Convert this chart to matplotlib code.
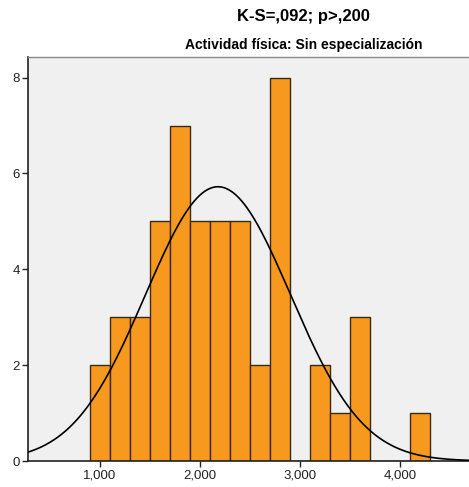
import numpy as np
import matplotlib.pyplot as plt
from matplotlib.ticker import FuncFormatter

plt.rcParams['font.family'] = ['Liberation Sans', 'DejaVu Sans']

# histogram bins (left edges, width 200) and counts
bin_left = [900, 1100, 1300, 1500, 1700, 1900, 2100, 2300, 2500, 2700,
            2900, 3100, 3300, 3500, 3700, 3900, 4100]
counts = [2, 3, 3, 5, 7, 5, 5, 5, 2, 8, 0, 2, 1, 3, 0, 0, 1]
bin_width = 200

# fitted normal curve
mean = 2180
std = 725

title = "K-S=,092; p>,200"
subtitle = "Actividad física: Sin especialización"

fig = plt.figure(figsize=(4.69, 4.87), dpi=100)
ax = fig.add_axes([28 / 469, 1 - 461 / 487, 1 - 28 / 469, (461 - 57) / 487])
ax.set_facecolor('#f0f0f0')

ax.bar(bin_left, counts, width=bin_width, align='edge',
       color='#f8991f', edgecolor='#3a2a10', linewidth=1.0, zorder=2)

n = sum(counts)
xs = np.linspace(280, 4690, 500)
ys = n * bin_width / (std * np.sqrt(2 * np.pi)) * np.exp(-0.5 * ((xs - mean) / std) ** 2)
ax.plot(xs, ys, color='black', linewidth=1.2, zorder=3)

ax.set_xlim(280, 4690)
ax.set_ylim(0, 8.43)
ax.set_xticks([1000, 2000, 3000, 4000])
ax.xaxis.set_major_formatter(FuncFormatter(lambda v, p: f"{int(v):,}"))
ax.set_yticks([0, 2, 4, 6, 8])

for s in ['left', 'bottom']:
    ax.spines[s].set_color('#222222')
    ax.spines[s].set_linewidth(1.2)
ax.spines['top'].set_color('#888888')
ax.spines['top'].set_linewidth(1.0)
ax.spines['right'].set_visible(False)
ax.tick_params(axis='both', direction='out', length=4, width=1, color='#222222',
               labelsize=9.5, labelcolor='#222222', pad=2)

fig.text(303 / 469, 1 - 17 / 487, title, ha='center', va='center',
         fontsize=12, fontweight='bold')
fig.text(304 / 469, 1 - 45 / 487, subtitle, ha='center', va='center',
         fontsize=10, fontweight='bold')

fig.savefig('out.png', dpi=100)
